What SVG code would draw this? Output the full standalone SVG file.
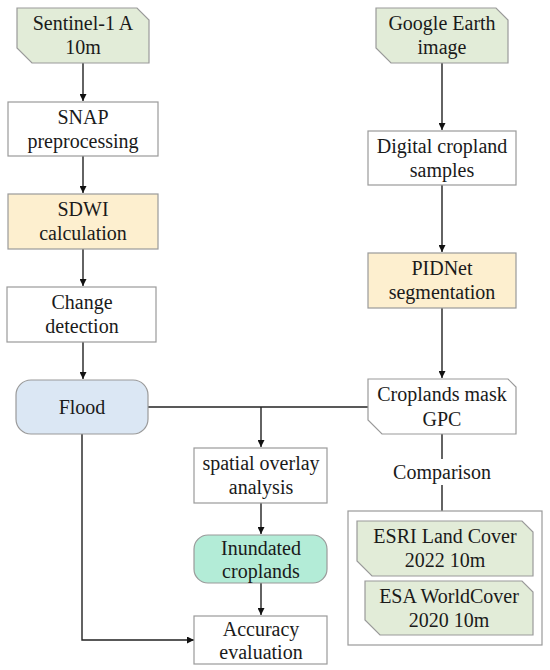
<svg xmlns="http://www.w3.org/2000/svg" width="550" height="670" viewBox="0 0 550 670" font-family="'Liberation Serif', 'DejaVu Serif', serif">
<style>
text{font-family:'Liberation Serif','DejaVu Serif',serif;font-size:20px;fill:#1a1a1a;text-anchor:middle}
.b{stroke:#9a9a9a;stroke-width:1.2}
.w{fill:#ffffff}
.g{fill:#e2ecd8}
.o{fill:#fdefcf}
.bl{fill:#dbe7f4}
.m{fill:#b3ecd7}
.c{fill:none;stroke:#222;stroke-width:1.4}
</style>
<defs>
<marker id="ah" viewBox="0 0 10 10" refX="10" refY="5" markerWidth="7" markerHeight="7" markerUnits="userSpaceOnUse" orient="auto">
<path d="M0,0 L10,5 L0,10 z" fill="#111"/>
</marker>
</defs>
<rect width="550" height="670" fill="#fff"/>
<g id="connectors">
<line class="c" x1="83" y1="63" x2="83" y2="101" marker-end="url(#ah)"/>
<line class="c" x1="83" y1="156" x2="83" y2="193" marker-end="url(#ah)"/>
<line class="c" x1="83" y1="249" x2="83" y2="286" marker-end="url(#ah)"/>
<line class="c" x1="83" y1="342" x2="83" y2="379" marker-end="url(#ah)"/>
<line class="c" x1="442" y1="63" x2="442" y2="130" marker-end="url(#ah)"/>
<line class="c" x1="442" y1="185" x2="442" y2="252" marker-end="url(#ah)"/>
<line class="c" x1="442" y1="308" x2="442" y2="378" marker-end="url(#ah)"/>
<line class="c" x1="148" y1="407" x2="368" y2="407"/>
<line class="c" x1="261" y1="407" x2="261" y2="447" marker-end="url(#ah)"/>
<line class="c" x1="261" y1="503" x2="261" y2="534" marker-end="url(#ah)"/>
<line class="c" x1="261" y1="583" x2="261" y2="615" marker-end="url(#ah)"/>
<polyline class="c" points="82,434 82,640 194,640" marker-end="url(#ah)"/>
<line class="c" x1="442" y1="434" x2="442" y2="459"/>
<line class="c" x1="442" y1="485" x2="442" y2="511"/>
</g>
<g id="sentinel">
<path class="b g" d="M17,8 H137 L149,20 V63 H32 L17,48 Z"/>
<text x="83" y="30">Sentinel-1 A</text>
<text x="83" y="54">10m</text>
</g>
<g id="snap">
<rect class="b w" x="8" y="102" width="150" height="54"/>
<text x="83" y="124">SNAP</text>
<text x="83" y="148">preprocessing</text>
</g>
<g id="sdwi">
<rect class="b o" x="8" y="194" width="150" height="55"/>
<text x="83" y="216">SDWI</text>
<text x="83" y="240">calculation</text>
</g>
<g id="change">
<rect class="b w" x="7" y="287" width="149" height="55"/>
<text x="82" y="309">Change</text>
<text x="82" y="333">detection</text>
</g>
<g id="flood">
<rect class="b bl" x="16" y="380" width="132" height="54" rx="15"/>
<text x="82" y="414">Flood</text>
</g>
<g id="google">
<path class="b g" d="M376,8 H496 L508,20 V63 H391 L376,48 Z"/>
<text x="442" y="30">Google Earth</text>
<text x="442" y="54">image</text>
</g>
<g id="digital">
<rect class="b w" x="368" y="131" width="148" height="54"/>
<text x="442" y="153">Digital cropland</text>
<text x="442" y="177">samples</text>
</g>
<g id="pidnet">
<rect class="b o" x="368" y="253" width="148" height="55"/>
<text x="442" y="275">PIDNet</text>
<text x="442" y="299">segmentation</text>
</g>
<g id="croplands">
<path class="b w" d="M368,379 H508 L516,387 V434 H382 L368,420 Z"/>
<text x="442" y="401">Croplands mask</text>
<text x="442" y="426">GPC</text>
</g>
<g id="comparison">
<text x="442" y="479">Comparison</text>
</g>
<g id="overlay">
<rect class="b w" x="194" y="448" width="133" height="55"/>
<text x="261" y="470">spatial overlay</text>
<text x="261" y="494">analysis</text>
</g>
<g id="inundated">
<rect class="b m" x="194" y="535" width="133" height="48" rx="14"/>
<text x="261" y="555">Inundated</text>
<text x="261" y="578">croplands</text>
</g>
<g id="accuracy">
<rect class="b w" x="194" y="616" width="133" height="48"/>
<text x="261" y="636">Accuracy</text>
<text x="261" y="659">evaluation</text>
</g>
<g id="products">
<rect class="b w" x="348" y="511" width="194" height="134"/>
</g>
<g id="esri">
<path class="b g" d="M357,521 H522 L533,532 V576 H372 L357,561 Z"/>
<text x="445" y="543">ESRI Land Cover</text>
<text x="445" y="567">2022 10m</text>
</g>
<g id="esa">
<path class="b g" d="M365,581 H522 L533,592 V635 H380 L365,620 Z"/>
<text x="449" y="603">ESA WorldCover</text>
<text x="449" y="627">2020 10m</text>
</g>
</svg>
